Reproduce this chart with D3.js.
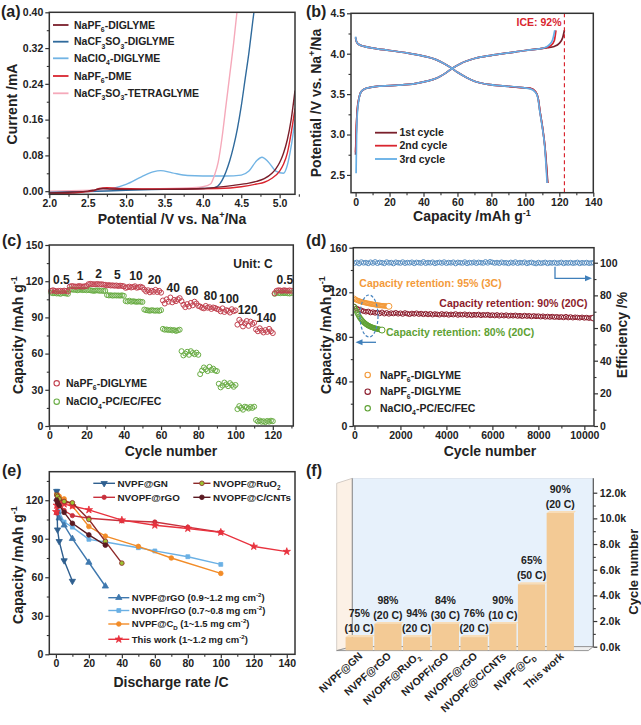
<!DOCTYPE html>
<html><head><meta charset="utf-8">
<script src="https://cdn.jsdelivr.net/npm/d3@7"></script>
<style>
body{margin:0;background:#fff}
svg{display:block}
text{font-family:"Liberation Sans",Arial,Helvetica,sans-serif;font-weight:bold;fill:#222}
</style>
</head><body>
<svg id="fig" width="641" height="725"></svg>
<script>
// ================= DATA =================
// (a) LSV curves [potential V, current mA]
const aPF6Diglyme = [[2.0,-0.004],[2.3,-0.002],[2.5,0.0],[2.6,0.003],[2.7,0.006],[2.8,0.005],[3.0,0.004],[3.5,0.004],[4.0,0.006],[4.2,0.009],[4.4,0.013],[4.6,0.018],[4.7,0.022],[4.8,0.028],[4.9,0.04],[4.95,0.05],[5.0,0.064],[5.05,0.085],[5.1,0.115],[5.15,0.16],[5.2,0.225]];
const aCF3Diglyme = [[2.0,-0.003],[2.5,-0.001],[3.0,0.002],[3.5,0.004],[4.0,0.006],[4.15,0.008],[4.2,0.012],[4.25,0.024],[4.3,0.043],[4.35,0.068],[4.4,0.1],[4.45,0.14],[4.5,0.19],[4.55,0.25],[4.6,0.31],[4.65,0.38],[4.68,0.42]];
const aClO4Diglyme = [[2.0,-0.002],[2.5,0.0],[2.8,0.005],[3.0,0.015],[3.2,0.032],[3.35,0.043],[3.45,0.046],[3.6,0.041],[3.8,0.035],[4.0,0.034],[4.3,0.034],[4.5,0.036],[4.6,0.045],[4.7,0.068],[4.77,0.076],[4.85,0.066],[4.95,0.045],[5.05,0.04],[5.1,0.058],[5.15,0.1],[5.2,0.16]];
const aPF6DME = [[2.0,-0.006],[2.3,-0.004],[2.55,0.0],[2.65,0.006],[2.75,0.008],[2.9,0.006],[3.2,0.005],[3.8,0.005],[4.2,0.006],[4.5,0.01],[4.7,0.016],[4.8,0.02],[4.9,0.029],[5.0,0.045],[5.05,0.06],[5.1,0.085],[5.15,0.13],[5.2,0.185]];
const aCF3Tetraglyme = [[2.0,0.0],[3.0,0.004],[3.8,0.007],[4.0,0.01],[4.1,0.016],[4.15,0.035],[4.2,0.065],[4.25,0.12],[4.3,0.19],[4.35,0.26],[4.4,0.33],[4.45,0.41]];

// (b) charge/discharge [capacity, voltage]
const bCharge1 = [[0,2.75],[0.5,3.1],[1,3.3],[2,3.45],[3,3.52],[5,3.56],[8,3.58],[15,3.6],[25,3.61],[35,3.63],[42,3.66],[48,3.7],[53,3.76],[57,3.82],[62,3.88],[70,3.94],[80,3.98],[90,4.01],[100,4.04],[108,4.06],[113,4.075],[117,4.09],[120,4.13],[122,4.2],[123,4.29]];
const bCharge2 = [[0,2.78],[0.5,3.12],[1,3.31],[2,3.45],[3,3.52],[5,3.56],[8,3.58],[15,3.6],[25,3.61],[35,3.63],[42,3.66],[48,3.7],[53,3.76],[57,3.82],[62,3.88],[70,3.94],[80,3.98],[90,4.01],[100,4.04],[108,4.06],[112,4.075],[115,4.1],[117,4.16],[118,4.29]];
const bCharge3 = [[0.3,2.52],[0.6,3.0],[1,3.25],[2,3.44],[3,3.52],[5,3.56],[8,3.58],[15,3.6],[25,3.61],[35,3.63],[42,3.66],[48,3.7],[53,3.76],[57,3.82],[62,3.88],[70,3.94],[80,3.98],[90,4.01],[100,4.04],[108,4.06],[112,4.08],[114,4.11],[116,4.17],[117.3,4.29]];
const bDis1 = [[0,4.2],[0.5,4.15],[1.5,4.12],[5,4.09],[10,4.07],[20,4.04],[30,4.01],[40,3.97],[47,3.93],[52,3.88],[56,3.83],[60,3.77],[65,3.71],[70,3.66],[78,3.62],[88,3.6],[98,3.58],[103,3.57],[106,3.53],[107.5,3.45],[108.5,3.3],[110,3.1],[111.5,2.85],[113.2,2.4]];
const bDis2 = [[0,4.2],[0.5,4.15],[1.5,4.12],[5,4.09],[10,4.07],[20,4.04],[30,4.01],[40,3.97],[47,3.93],[52,3.88],[56,3.83],[60,3.77],[65,3.71],[70,3.66],[78,3.62],[88,3.6],[98,3.58],[103,3.57],[106,3.53],[107.5,3.45],[108.5,3.3],[110,3.1],[111.5,2.85],[113,2.4]];
const bDis3 = [[0,4.21],[0.5,4.15],[1.5,4.12],[5,4.09],[10,4.07],[20,4.04],[30,4.01],[40,3.97],[47,3.93],[52,3.88],[56,3.83],[60,3.77],[65,3.71],[70,3.66],[78,3.62],[88,3.6],[98,3.58],[103,3.565],[106,3.52],[107.4,3.45],[108.4,3.3],[109.9,3.1],[111.4,2.85],[112.8,2.4]];
const bICE = 123;

// (c) rate performance, cycles 1..130
const cRates = ["0.5","1","2","5","10","20","40","60","80","100","120","140","0.5"];
const cPF6 = [
 112,112.5,112,111.5,112,112,111.8,112.2,112,111.5,
 115.5,116,115.8,115.5,115.6,116,115.7,115.5,115.8,116,
 117.5,117.8,117.6,117.4,117.5,117.7,117.3,117.5,117.2,117,
 116.5,116.8,116.4,116.6,116.2,116.5,116,116.3,116.1,115.8,
 114.5,115,115.5,114.8,115.2,115.8,114.6,115,115.4,114.8,
 113,111.5,112.5,110.8,112,111.2,112.8,111,112,110.5,
 104,101.5,105,103,106.5,102.5,104.5,103.5,105,106,
 103.5,100.5,98.5,101,99,102,100,103,101.5,99.5,
 99,98,97.5,99.5,98,98.5,97,98.2,97.8,97,
 96.5,95,97.5,94.5,96,95.5,94,96.8,95.2,95.8,
 84,88,86,82.5,85,87,83,86.5,84.5,85.5,
 80,78.5,81,79,77.5,79.5,78,80.5,78.5,77,
 110,112,112.5,112.3,112,112.5,112.2,112,112.4,112];
const cClO4 = [
 110.5,110,110.2,109.8,110,109.5,110.2,110,109.8,109.5,
 113,113.2,112.8,113,112.5,112.8,113,112.6,112.9,112.5,
 112.8,112.5,112.2,112,112.3,112.4,112,112.2,111.9,112,
 108.5,108.2,108.4,108,108.3,108.1,108.2,108,108.3,107.9,
 103.5,103.2,103.8,103,103.4,103.1,102.9,103.2,103,102.8,
 96.5,96,95.8,95.5,96,95.7,95.5,95.8,95.4,96,
 80.5,79.8,80,79.5,79.8,79.2,79.5,78.8,79.3,79.8,
 62,58.5,60,61.5,59,62,60.5,59.5,60.8,59,
 43,46,48.5,47,45.5,49,46.5,47.5,46,45.5,
 35,32,33.5,36,34.5,33,35.5,34,32.5,34,
 14,16.5,15,13.5,16,15.5,14.5,15.8,15,16,
 5,3.8,4.5,3.5,4,3.2,4.2,3.6,4.4,4,
 109.5,110.5,110.2,110,110.4,110.1,110.3,110,109.8,110.2];

// (d) long cycling (sampled cycles)
const dEffStep = 100;
const dEff = [
 99.8,100.2,99.5,100.4,99.9,100.1,99.6,100.3,99.8,100.5,
 99.7,100.2,100,99.6,100.4,99.9,100.1,99.5,100.3,100,
 99.8,100.4,99.7,100.1,99.9,100.3,99.6,100.2,100,99.8,
 100.5,99.7,100.1,99.9,100.3,99.6,100,100.2,99.8,100.4,
 99.7,100.1,99.9,100.3,99.5,100.2,100,99.8,100.4,99.6,
 100.1,99.9,100.3,99.7,100.2,100,99.8,100.5,99.9,100.6,
 100.2,99.8,100.1,99.7,100.3,99.9,100,99.6,100.2,99.8,
 100.4,99.7,100.1,99.9,100.3,99.6,100,100.2,99.8,99.5,
 100.1,99.7,99.9,100.2,99.6,100,99.8,100.1,99.7,99.9,
 100.2,99.6,100,99.8,100.1,99.7,99.9,100.2,99.6,100,
 99.8,100.1,99.7,99.9,100];
const dRedStep = 100;
const dRed = [
 107,105.5,104.5,103.8,103,102.5,102.8,101.8,102.2,101.5,
 101.8,101,102,100.8,101.5,100.6,101.3,100.9,101.6,100.7,
 101.2,100.5,101.4,100.8,100.3,101,100.6,101.2,100.4,100.9,
 100.2,100.8,100.1,100.7,99.9,100.5,100.2,99.8,100.6,100,
 100.4,99.7,100.2,99.9,100.5,99.6,100.1,99.8,100.3,99.5,
 100,99.4,99.9,99.6,100.1,99.3,99.8,99.5,99.9,99.2,
 99.6,99.1,99.7,98.9,99.4,99,99.5,98.8,99.2,98.9,
 99.3,98.7,99,98.5,99.1,98.6,98.9,98.3,98.8,98.4,
 98.6,98.1,98.5,97.9,98.3,97.8,98.2,97.7,98,97.6,
 97.9,97.4,98.1,97.3,97.8,97.2,97.6,97.4,97.1,97.5,
 97,97.3,96.8,97.1,96.9];
const dOrangeStep = 50;
const dOrange = [114.5,113.5,113,112.6,112.2,111.8,111.5,111.2,111,110.8,110.5,110.2,110,109.8,109.6,109.4,109.2,109,108.9,108.7,108.5,108.4,108.2,108.1,108,107.9,107.8,107.7,107.6,107.5,107.4];
const dGreenStep = 40;
const dGreen = [107,105,103.5,101.5,100,98.5,97,96,95,94,93.2,92.5,91.8,91.2,90.6,90.1,89.7,89.3,88.9,88.6,88.3,88,87.7,87.5,87.3,87.1,86.9,86.7,86.5,86.3,86.1];

// (e) rate comparison [C-rate, capacity]
const eGN = [[0.5,127],[1,97],[2,88],[5,73],[10,57]];
const eRuO2 = [[0.5,124],[1,123],[2,121],[5,119],[10,118],[20,105],[30,88],[40,71]];
const eNVOPFatRGO = [[0.5,110],[1,115],[2,118],[5,112],[10,108],[20,106],[40,104],[60,103],[80,99],[100,95]];
const eCNT = [[0.5,120],[1,118],[2,116],[5,110.5],[10,102],[20,93],[30,85]];
const eNVPFatRGO = [[0.5,121],[1,111],[2,106],[5,100.5],[10,90],[20,71.5],[30,53]];
const eNVOPFslRGO = [[0.5,127],[1,118],[2,111],[5,103],[10,99],[20,89.5],[30,87.5],[50,83],[60,80.5],[80,76],[100,70]];
const eCD = [[0.5,125],[1,124],[2,123],[5,121],[10,115.5],[20,99.5],[30,92],[50,84],[70,75],[100,63]];
const eThis = [[0.2,111],[0.5,116],[1,119],[2,118],[5,117],[10,115.5],[20,112.5],[40,104.5],[60,100.5],[80,98],[100,95],[120,84],[140,80]];

// (f) cycle comparison
const fNames = ["NVPF@GN","NVPF@rGO","NVOPF@RuO2","NVOPF/rGO","NVOPF@rGO","NVOPF@C/CNTs","NVPF@CD","This work"];
const fCycles = [1000,2000,1000,2000,1000,2000,5000,10400];
const fRetention = ["75%","98%","94%","84%","76%","90%","65%","90%"];
const fRate = ["(10 C)","(20 C)","(20 C)","(30 C)","(20 C)","(10 C)","(50 C)","(20 C)"];

// ================= HELPERS =================
const svg = d3.select('#fig');
svg.append('rect').attr('width',641).attr('height',725).attr('fill','#fff');
const FONT = '"Liberation Sans",Arial,Helvetica,sans-serif';
const AX = '#333';

function rich(sel, parts, fs){
  let off = 0;
  parts.forEach(p => {
    const s = Array.isArray(p) ? p[0] : p, k = Array.isArray(p) ? p[1] : null;
    const t = sel.append('tspan').text(s);
    const target = k === 'sub' ? fs*0.3 : k === 'sup' ? -fs*0.42 : 0;
    if (target !== off){ t.attr('dy', target - off); off = target; }
    if (k) t.attr('font-size', fs*0.65);
  });
  return sel;
}
function txt(g, x, y, parts, fs, opts={}){
  const t = g.append('text').attr('x',x).attr('y',y + fs*0.35).attr('font-size',fs)
    .attr('text-anchor', opts.anchor || 'start');
  if (opts.fill) t.style('fill', opts.fill);
  if (opts.rot !== undefined){
    t.attr('x',null).attr('y',null).attr('transform',`translate(${x},${y})rotate(${opts.rot})`).attr('dy', fs*0.35);
  }
  rich(t, typeof parts === 'string' ? [parts] : parts, fs);
  return t;
}
function axis(g, orient, scale, pos, majors, minors, fmt, pad){
  const mk = {bottom:d3.axisBottom, left:d3.axisLeft, right:d3.axisRight}[orient];
  const tr = orient === 'bottom' ? `translate(0,${pos})` : `translate(${pos},0)`;
  if (minors){
    const m = g.append('g').attr('transform',tr)
      .call(mk(scale).tickValues(minors).tickFormat('').tickSize(2.5).tickSizeOuter(0));
    m.select('.domain').remove();
    m.selectAll('line').attr('stroke',AX).attr('stroke-width',1.1);
  }
  const a = g.append('g').attr('transform',tr)
    .call(mk(scale).tickValues(majors).tickFormat(fmt).tickSize(4).tickSizeOuter(0).tickPadding(pad === undefined ? 2 : pad));
  a.select('.domain').remove();
  a.attr('font-family',FONT).attr('font-size',10.5).attr('font-weight','bold');
  a.selectAll('line').attr('stroke',AX).attr('stroke-width',1.2);
  a.selectAll('text').style('fill','#222');
  return a;
}
function frame(g, x0, x1, y0, y1){
  g.append('rect').attr('x',x0).attr('y',y0).attr('width',x1-x0).attr('height',y1-y0)
    .attr('fill','none').attr('stroke',AX).attr('stroke-width',1.5);
}
let clipN = 0;
function clip(g, x0, x1, y0, y1){
  const id = 'clip' + (clipN++);
  svg.append('clipPath').attr('id',id).append('rect').attr('x',x0).attr('y',y0).attr('width',x1-x0).attr('height',y1-y0);
  return g.append('g').attr('clip-path',`url(#${id})`);
}
const range = (a,b,s) => d3.range(a, b + s/2, s);
const panelLabel = (x,y,s) => svg.append('text').attr('x',x).attr('y',y).attr('font-size',16).text(s);

// ================= (a) =================
{
  const g = svg.append('g');
  const x0=49.3, x1=295, y0=12.3, y1=194.3;
  const x = d3.scaleLinear().domain([2.0,5.2]).range([x0,x1]);
  const y = d3.scaleLinear().domain([-0.007,0.40]).range([y1,y0]);
  const series = [
    {d:aClO4Diglyme, c:'#72b4e4', n:[['NaClO'],['4','sub'],['-DIGLYME']], li:2},
    {d:aCF3Tetraglyme, c:'#f5a9ba', n:[['NaCF'],['3','sub'],['SO'],['3','sub'],['-TETRAGLYME']], li:4},
    {d:aCF3Diglyme, c:'#2f6a9c', n:[['NaCF'],['3','sub'],['SO'],['3','sub'],['-DIGLYME']], li:1},
    {d:aPF6DME, c:'#d9252f', n:[['NaPF'],['6','sub'],['-DME']], li:3},
    {d:aPF6Diglyme, c:'#7a1f2b', n:[['NaPF'],['6','sub'],['-DIGLYME']], li:0}
  ];
  const cg = clip(g, x0, x1, y0, y1);
  const line = d3.line().x(d=>x(d[0])).y(d=>y(d[1])).curve(d3.curveMonotoneX);
  series.forEach(s => cg.append('path').attr('d', line(s.d)).attr('fill','none').attr('stroke',s.c).attr('stroke-width',1.4));
  frame(g, x0, x1, y0, y1);
  axis(g,'bottom',x,y1,range(2.0,5.0,0.5),range(2.25,5.25,0.5),d3.format('.1f'),1.5);
  axis(g,'left',y,x0,range(0,0.4,0.08),range(0.04,0.36,0.08),d3.format('.2f'));
  const ly = [25,41.7,58.3,76,93.3];
  series.forEach(s => {
    g.append('line').attr('x1',53).attr('x2',68.5).attr('y1',ly[s.li]).attr('y2',ly[s.li]).attr('stroke',s.c).attr('stroke-width',1.8);
    txt(g, 74, ly[s.li], s.n, 10.5);
  });
  txt(g, 172, 219, [['Potential /V vs. Na'],['+','sup'],['/Na']], 14, {anchor:'middle'});
  txt(g, 12, 104, 'Current /mA', 14, {anchor:'middle', rot:-90});
  panelLabel(1,17,'(a)');
}

// ================= (b) =================
{
  const g = svg.append('g');
  const x0=351, x1=593.3, y0=13.3, y1=192.7;
  const x = d3.scaleLinear().domain([-2.7,140]).range([x0,x1]);
  const y = d3.scaleLinear().domain([2.28,4.5]).range([y1,y0]);
  const cg = clip(g, x0, x1, y0, y1);
  const line = d3.line().x(d=>x(d[0])).y(d=>y(d[1])).curve(d3.curveMonotoneX);
  const cyc = [
    {c:bCharge1, d:bDis1, col:'#7a1f2b', n:'1st cycle'},
    {c:bCharge2, d:bDis2, col:'#d9252f', n:'2nd cycle'},
    {c:bCharge3, d:bDis3, col:'#64aee6', n:'3rd cycle'}
  ];
  cyc.forEach(s => {
    cg.append('path').attr('d', line(s.c)).attr('fill','none').attr('stroke',s.col).attr('stroke-width',1.7);
    cg.append('path').attr('d', line(s.d)).attr('fill','none').attr('stroke',s.col).attr('stroke-width',1.7);
  });
  cg.append('line').attr('x1',x(bICE)).attr('x2',x(bICE)).attr('y1',y0).attr('y2',y1)
    .attr('stroke','#d9252f').attr('stroke-width',1.2).attr('stroke-dasharray','4,3');
  txt(g, 561.5, 22.7, 'ICE: 92%', 10.5, {anchor:'end', fill:'#d9252f'});
  frame(g, x0, x1, y0, y1);
  axis(g,'bottom',x,y1,range(0,140,20),range(10,130,20),d3.format('d'),1.5);
  axis(g,'left',y,x0,range(2.5,4.5,0.5),range(2.75,4.25,0.5),d3.format('.1f'));
  const ly = [132.7,145.7,159];
  cyc.forEach((s,i) => {
    g.append('line').attr('x1',375).attr('x2',397).attr('y1',ly[i]).attr('y2',ly[i]).attr('stroke',s.col).attr('stroke-width',1.8);
    txt(g, 399.5, ly[i], s.n, 10.5);
  });
  txt(g, 472, 216.5, [['Capacity /mAh g'],['-1','sup']], 14, {anchor:'middle'});
  txt(g, 316, 103, [['Potential /V vs. Na'],['+','sup'],['/Na']], 14, {anchor:'middle', rot:-90});
  panelLabel(306,17,'(b)');
}

// ================= (c) =================
{
  const g = svg.append('g');
  const x0=49.3, x1=293.3, y0=245, y1=426;
  const x = d3.scaleLinear().domain([0,131]).range([x0,x1]);
  const y = d3.scaleLinear().domain([0,150]).range([y1,y0]);
  const red = '#c24250', green = '#6aad45';
  const cg = clip(g, x0-4, x1, y0, y1+4);
  cg.selectAll('.g').data(cClO4).join('circle').attr('cx',(d,i)=>x(i+1)).attr('cy',d=>y(d)).attr('r',2.5)
    .attr('fill','none').attr('stroke',green).attr('stroke-width',1);
  cg.selectAll('.r').data(cPF6).join('circle').attr('cx',(d,i)=>x(i+1)).attr('cy',d=>y(d)).attr('r',2.5)
    .attr('fill','none').attr('stroke',red).attr('stroke-width',1);
  frame(g, x0, x1, y0, y1);
  axis(g,'bottom',x,y1,range(0,120,20),range(10,130,20),d3.format('d'),1.5);
  axis(g,'left',y,x0,range(0,150,30),range(15,135,30),d3.format('d'));
  cRates.forEach((r,i) => {
    const blk = cPF6.slice(i*10, i*10+10);
    txt(g, x(i*10+6.5), y(d3.max(blk)) - 10, r, 12, {anchor:'middle'});
  });
  txt(g, 253, 263.3, 'Unit: C', 12, {anchor:'middle'});
  [[red,[['NaPF'],['6','sub'],['-DIGLYME']],383.3],[green,[['NaClO'],['4','sub'],['-PC/EC/FEC']],401.7]].forEach(l => {
    g.append('circle').attr('cx',56.7).attr('cy',l[2]).attr('r',2.7).attr('fill','none').attr('stroke',l[0]).attr('stroke-width',1.1);
    txt(g, 66, l[2], l[1], 10.5);
  });
  txt(g, 171, 451, 'Cycle number', 14, {anchor:'middle'});
  txt(g, 18, 335, [['Capacity /mAh g'],['-1','sup']], 14, {anchor:'middle', rot:-90});
  panelLabel(2,246,'(c)');
}

// ================= (d) =================
{
  const g = svg.append('g');
  const x0=353.3, x1=594, y0=247.7, y1=426;
  const x = d3.scaleLinear().domain([-50,10420]).range([x0,x1]);
  const yl = d3.scaleLinear().domain([0,160]).range([y1,y0]);
  const yr = d3.scaleLinear().domain([0,109.2]).range([y1,y0]);
  const orange='#f39a3a', dred='#8c1c2c', green='#5ea133', blue='#5b90c2';
  const cg = clip(g, x0, x1, y0, y1);
  const dots = (data, step, sc, col, r) => {
    cg.append('g').selectAll('circle').data(data).join('circle')
      .attr('cx',(d,i)=>x(i*step)).attr('cy',d=>sc(d)).attr('r',r)
      .attr('fill','none').attr('stroke',col).attr('stroke-width',1);
    const n = data.length - 1;
    cg.append('circle').attr('cx',x(n*step)).attr('cy',sc(data[n])).attr('r',3).attr('fill','#fff').attr('stroke',col).attr('stroke-width',1);
  };
  cg.append('g').selectAll('circle').data(dEff).join('circle')
    .attr('cx',(d,i)=>x(i*dEffStep)).attr('cy',d=>yr(d)).attr('r',2.3)
    .attr('fill','none').attr('stroke',blue).attr('stroke-width',1);
  dots(dRed, dRedStep, yl, dred, 2.3);
  dots(dOrange, dOrangeStep, yl, orange, 2.3);
  dots(dGreen, dGreenStep, yl, green, 2.4);
  g.append('ellipse').attr('cx',369).attr('cy',316).attr('rx',9).attr('ry',21)
    .attr('fill','none').attr('stroke','#4a86c0').attr('stroke-width',1.2).attr('stroke-dasharray','3,2');
  g.append('path').attr('d','M555,266.7V278.3H587').attr('fill','none').attr('stroke','#3f7fba').attr('stroke-width',1.3);
  g.append('path').attr('d','M592,278.3L585,275.3L585,281.3Z').attr('fill','#3f7fba');
  g.append('path').attr('d','M376,342.3H361').attr('fill','none').attr('stroke','#3f7fba').attr('stroke-width',1.3);
  g.append('path').attr('d','M355.5,342.3L362.5,339.3L362.5,345.3Z').attr('fill','#3f7fba');
  frame(g, x0, x1, y0, y1);
  axis(g,'bottom',x,y1,range(0,10000,2000),range(1000,9000,2000),d3.format('d'),1.5);
  axis(g,'left',yl,x0,range(0,160,40),range(20,140,40),d3.format('d'));
  axis(g,'right',yr,x1,range(0,100,20),range(10,90,20),d3.format('d'));
  txt(g, 359.3, 283.3, 'Capacity retention: 95% (3C)', 10.5, {fill:orange});
  txt(g, 439.3, 303.3, 'Capacity retention: 90% (20C)', 10.5, {fill:dred});
  txt(g, 386, 332.7, 'Capacity retention: 80% (20C)', 10.5, {fill:green});
  [[orange,[['NaPF'],['6','sub'],['-DIGLYME']],375],[dred,[['NaPF'],['6','sub'],['-DIGLYME']],391.7],[green,[['NaClO'],['4','sub'],['-PC/EC/FEC']],408.3]].forEach(l => {
    g.append('circle').attr('cx',367.7).attr('cy',l[2]).attr('r',2.7).attr('fill','none').attr('stroke',l[0]).attr('stroke-width',1.1);
    txt(g, 380, l[2], l[1], 10.5);
  });
  txt(g, 490, 451, 'Cycle number', 14, {anchor:'middle'});
  txt(g, 326, 335, [['Capacity /mAh g'],['-1','sup']], 14, {anchor:'middle', rot:-90});
  txt(g, 622, 335, 'Efficiency /%', 14, {anchor:'middle', rot:-90});
  panelLabel(306,246,'(d)');
}

// ================= (e) =================
{
  const g = svg.append('g');
  const x0=49.3, x1=295, y0=471.7, y1=654.3;
  const x = d3.scaleLinear().domain([-4,145]).range([x0,x1]);
  const y = d3.scaleLinear().domain([0,142.2]).range([y1,y0]);
  const series = [
    {d:eNVOPFslRGO, c:'#6ab0e4', f:'#6ab0e4', sym:d3.symbolSquare, sz:15, rot:0},
    {d:eNVPFatRGO, c:'#3f78ae', f:'#3f78ae', sym:d3.symbolTriangle, sz:17, rot:0},
    {d:eCD, c:'#f28c28', f:'#f28c28', sym:d3.symbolCircle, sz:17, rot:0},
    {d:eGN, c:'#2f5f8f', f:'#2f5f8f', sym:d3.symbolTriangle, sz:17, rot:180},
    {d:eNVOPFatRGO, c:'#c8303c', f:'#c8303c', sym:d3.symbolCircle, sz:15, rot:0},
    {d:eThis, c:'#e8323e', f:'#e8323e', sym:d3.symbolStar, sz:17, rot:0},
    {d:eRuO2, c:'#8e2a2a', f:'#9cc232', sym:d3.symbolCircle, sz:17, rot:0},
    {d:eCNT, c:'#5b1a22', f:'#5b1a22', sym:d3.symbolCircle, sz:17, rot:0}
  ];
  const cg = clip(g, x0, x1, y0, y1);
  const line = d3.line().x(d=>x(d[0])).y(d=>y(d[1]));
  const marker = (gg, s, px, py) => gg.append('path').attr('d', d3.symbol().type(s.sym).size(s.sz)())
      .attr('transform',`translate(${px},${py})rotate(${s.rot})`).attr('fill',s.f).attr('stroke',s.c).attr('stroke-width',0.8);
  series.forEach(s => {
    cg.append('path').attr('d', line(s.d)).attr('fill','none').attr('stroke',s.c).attr('stroke-width',1.4);
    s.d.forEach(p => marker(cg, s, x(p[0]), y(p[1])));
  });
  frame(g, x0, x1, y0, y1);
  axis(g,'bottom',x,y1,range(0,140,20),range(10,130,20),d3.format('d'),1.5);
  axis(g,'left',y,x0,range(0,120,30),range(15,135,30),d3.format('d'));
  const leg = (s, lx1, lx2, ly, parts, fs) => {
    g.append('line').attr('x1',lx1).attr('x2',lx2).attr('y1',ly).attr('y2',ly).attr('stroke',s.c).attr('stroke-width',1.4);
    marker(g, s, (lx1+lx2)/2, ly);
    txt(g, lx2 + 2.5, ly, parts, fs);
  };
  leg(series[3], 93.3, 115, 483.3, 'NVPF@GN', 9.8);
  leg(series[6], 193.3, 210.5, 483.3, [['NVOPF@RuO'],['2','sub']], 9.8);
  leg(series[4], 93.3, 115, 497.3, 'NVOPF@rGO', 9.8);
  leg(series[7], 193.3, 210.5, 497.3, 'NVOPF@C/CNTs', 9.8);
  leg(series[1], 108.3, 129.3, 597.7, [['NVPF@rGO (0.9~1.2 mg cm'],['-2','sup'],[')']], 9.5);
  leg(series[0], 108.3, 129.3, 610.5, [['NVOPF/rGO (0.7~0.8 mg cm'],['-2','sup'],[')']], 9.5);
  leg(series[2], 108.3, 129.3, 624, [['NVPF@C'],['D','sub'],[' (1~1.5 mg cm'],['-2','sup'],[')']], 9.5);
  leg(series[5], 108.3, 129.3, 639.3, [['This work (1~1.2 mg cm'],['-2','sup'],[')']], 9.5);
  txt(g, 171, 682.3, 'Discharge rate /C', 14, {anchor:'middle'});
  txt(g, 18, 565, [['Capacity /mAh g'],['-1','sup']], 14, {anchor:'middle', rot:-90});
  panelLabel(2,476,'(e)');
}

// ================= (f) =================
{
  const g = svg.append('g');
  const wallL=352.3, wallR=593.3, wallT=478.3, wallB=646.6;
  const yAx = d3.scaleLinear().domain([0,12000]).range([646.7,492.7]);
  const yBar = d3.scaleLinear().domain([0,12000]).range([650.3,650.3-158.4]);
  const xb = d3.scaleBand().domain(fNames).range([345,574.5]).paddingInner(0.05).paddingOuter(0.02);
  g.append('path').attr('d',`M336.7,483.3L${wallL},${wallT}L${wallL},${wallB}L336.7,650.6Z`).attr('fill','#fcf1e6').attr('stroke','#c9c2bb').attr('stroke-width',0.8);
  g.append('rect').attr('x',wallL).attr('y',wallT).attr('width',wallR-wallL).attr('height',wallB-wallT).attr('fill','#e7f1fb').attr('stroke','#d5dde6').attr('stroke-width',0.6);
  g.append('line').attr('x1',wallL).attr('x2',wallL).attr('y1',wallT).attr('y2',wallB).attr('stroke','#8a8a8a').attr('stroke-width',1);
  g.append('path').attr('d',`M336.7,650.6L${wallL},${wallB}L${wallR},${wallB}L588.3,650.6Z`).attr('fill','#eeeeee').attr('stroke','#8a8a8a').attr('stroke-width',0.9);
  fNames.forEach((n,i) => {
    const bx = xb(n), bw = xb.bandwidth(), top = yBar(fCycles[i]);
    g.append('path').attr('d',`M${bx},${top}L${bx+3},${top-2}L${bx+bw+2},${top-2}L${bx+bw},${top}Z`).attr('fill','#f8ddb8');
    g.append('rect').attr('x',bx).attr('y',top).attr('width',bw).attr('height',yBar(0)-top).attr('fill','#f3ca95');
    txt(g, bx+bw/2, top-23.5, fRetention[i], 10.5, {anchor:'middle'});
    txt(g, bx+bw/2, top-8.5, fRate[i], 10.5, {anchor:'middle'});
  });
  g.append('line').attr('x1',wallR).attr('x2',wallR).attr('y1',wallT).attr('y2',646.7).attr('stroke','#555').attr('stroke-width',1.2);
  axis(g,'right',yAx,wallR,range(0,12000,2000),range(1000,11000,2000),d => (d/1000).toFixed(1)+'k',2.5);
  const labelParts = {"NVOPF@RuO2":[['NVOPF@RuO'],['2','sub']], "NVPF@CD":[['NVPF@C'],['D','sub']]};
  fNames.forEach(n => {
    const t = g.append('text').attr('font-size',10.5).attr('text-anchor','end')
      .attr('transform',`translate(${xb(n)+xb.bandwidth()/2+4},${657})rotate(-42)`);
    rich(t, labelParts[n] || [n], 10.5);
  });
  txt(g, 633, 571.7, 'Cycle number', 13, {anchor:'middle', rot:-90});
  panelLabel(306,476,'(f)');
}
</script>
</body></html>
